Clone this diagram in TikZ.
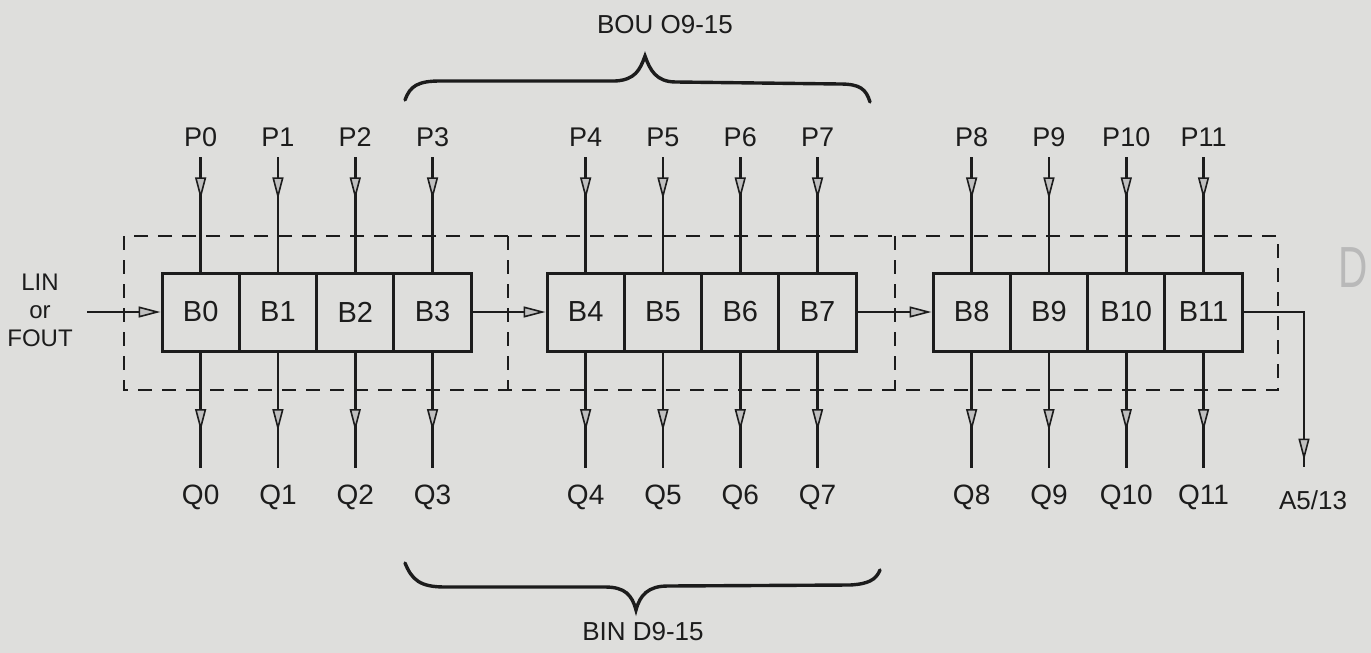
\documentclass[tikz,border=0pt]{standalone}
\usepackage{fontspec}
\setmainfont{Liberation Sans}
\usetikzlibrary{arrows.meta,decorations.markings}
\definecolor{paper}{RGB}{222,222,220}
\definecolor{ink}{RGB}{28,28,28}
\tikzset{
  hd/.tip={Triangle[length=22pt,width=11pt,fill=gray!50,line width=1.6pt]},
  wire/.style={draw=ink,line width=2.6pt},
  midarrow/.style={postaction={decorate,decoration={markings,mark=at position #1 with {\arrow{hd}}}}},
  cell/.style={draw=ink,line width=3pt,minimum width=77.3pt,minimum height=78pt,inner sep=0pt,text=ink,font=\fontsize{29}{29}\selectfont},
  lab/.style={font=\fontsize{27}{27}\selectfont,text=ink,inner sep=0pt},
  frame/.style={draw=ink,line width=2.4pt,dash pattern=on 14pt off 10pt},
  brace/.style={draw=ink,line width=3.4pt,line cap=round},
}
\begin{document}
\begin{tikzpicture}[x=1pt,y=-1pt]
\useasboundingbox (0,0) rectangle (1371,653);
\fill[paper] (0,0) rectangle (1371,653);
% dashed frames
\draw[frame] (124,236) rectangle (1278,390);
\draw[frame] (508,236) -- (508,390);
\draw[frame] (895,236) -- (895,390);
% cells, inputs and outputs
\foreach \n/\x in {0/200.65,1/277.95,2/355.25,3/432.55,4/585.65,5/662.95,6/740.25,7/817.55,8/971.65,9/1048.95,10/1126.25,11/1203.55}{
  \node[cell] (b\n) at (\x,312) {B\n};
  \node[lab] (p\n) at (\x,137) {P\n};
  \node[lab,font=\fontsize{28}{28}\selectfont] (q\n) at (\x,497) {Q\n};
  \coordinate (pe\n) at (\x,157);
  \coordinate (qe\n) at (\x,468);
  \draw[wire,midarrow=0.37] (pe\n) -- (b\n.north);
  \draw[wire,midarrow=0.68] (b\n.south) -- (qe\n);
}
% chain connectors
\node[lab,align=center,font=\fontsize{24}{28}\selectfont] (lintxt) at (40,310) {LIN\\or\\FOUT};
\coordinate (lin) at (87,312);
\draw[wire,-{hd}] (lin) -- (b0.west);
\draw[wire,-{hd}] (b3.east) -- (b4.west);
\draw[wire,-{hd}] (b7.east) -- (b8.west);
\coordinate (aout) at (1304,467);
\draw[wire,midarrow=0.97] (b11.east) -| (aout);
\node[lab,font=\fontsize{26}{26}\selectfont] (atxt) at (1313,500) {A5/13};
% braces
\draw[brace] (405,100) .. controls (410,86) and (418,81) .. (440,81) -- (615,81) .. controls (635,80) and (640,70) .. (645,56) .. controls (650,70) and (656,82) .. (676,82) -- (840,84) .. controls (860,84) and (866,89) .. (870,102);
\node[lab,font=\fontsize{26}{26}\selectfont] (bou) at (665,25) {BOU O9-15};
\draw[brace] (405,563) .. controls (412,580) and (420,587) .. (445,587) -- (605,587) .. controls (625,587) and (632,595) .. (636,610) .. controls (640,595) and (648,586) .. (668,586) -- (850,585) .. controls (868,584) and (876,580) .. (880,570);
\node[lab,font=\fontsize{26}{26}\selectfont] (bin) at (643,632) {BIN D9-15};
% faint mark at right edge
\node[inner sep=0pt,text=gray!55,font=\fontsize{58}{58}\selectfont,xscale=0.7] (dmark) at (1353,268) {D};
\end{tikzpicture}
\end{document}
